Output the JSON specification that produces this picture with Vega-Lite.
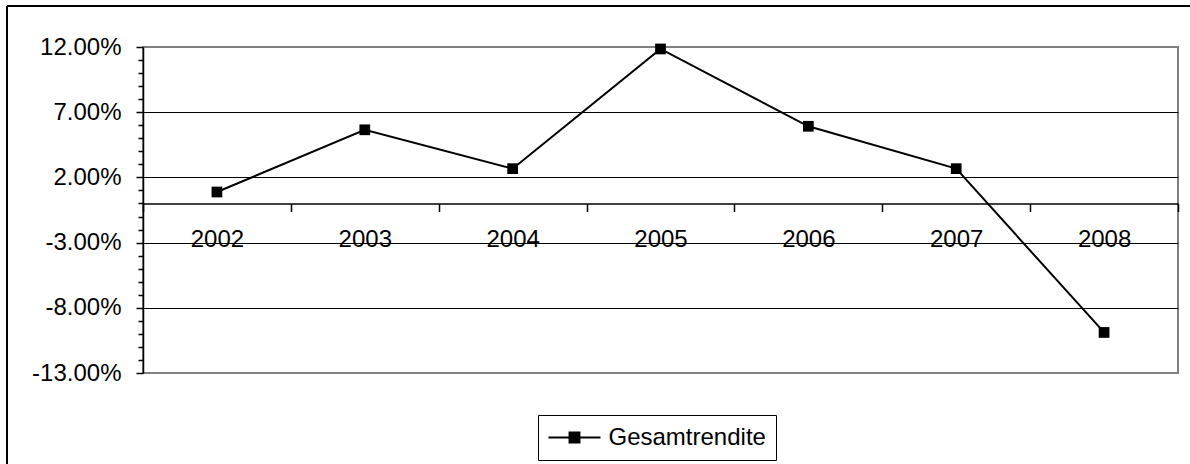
{
  "$schema": "https://vega.github.io/schema/vega-lite/v6.json",
  "width": 1035,
  "height": 326,
  "autosize": "none",
  "padding": {"left": 143, "top": 47, "right": 12, "bottom": 91},
  "background": "white",
  "config": {
    "font": "Liberation Sans",
    "view": {"stroke": "#808080", "strokeWidth": 2},
    "axis": {
      "labelFont": "Liberation Sans",
      "labelFontSize": 24,
      "labelColor": "black",
      "labelOverlap": false,
      "labelFlush": false,
      "labelBound": false,
      "domainColor": "black",
      "tickColor": "black",
      "gridColor": "black",
      "gridWidth": 1
    }
  },
  "data": {
    "values": [
      {"year": "2002", "rendite": 0.0088, "series": "Gesamtrendite"},
      {"year": "2003", "rendite": 0.0565, "series": "Gesamtrendite"},
      {"year": "2004", "rendite": 0.0267, "series": "Gesamtrendite"},
      {"year": "2005", "rendite": 0.1185, "series": "Gesamtrendite"},
      {"year": "2006", "rendite": 0.0592, "series": "Gesamtrendite"},
      {"year": "2007", "rendite": 0.0267, "series": "Gesamtrendite"},
      {"year": "2008", "rendite": -0.0989, "series": "Gesamtrendite"}
    ]
  },
  "resolve": {"scale": {"x": "independent"}, "axis": {"x": "independent"}},
  "layer": [
    {
      "mark": {"type": "line", "color": "black", "strokeWidth": 2},
      "encoding": {
        "x": {
          "field": "year",
          "type": "ordinal",
          "scale": {"type": "band", "paddingInner": 0, "paddingOuter": 0},
          "axis": {
            "title": null,
            "orient": "bottom",
            "offset": -169.5,
            "tickBand": "extent",
            "tickSize": 8,
            "tickWidth": 1.5,
            "labelAngle": 0,
            "labelPadding": 16,
            "grid": false,
            "domainWidth": 1.5
          }
        },
        "y": {
          "field": "rendite",
          "type": "quantitative",
          "scale": {"domain": [-0.13, 0.12], "nice": false, "zero": false},
          "axis": {
            "title": null,
            "values": [-0.13, -0.12, -0.11, -0.1, -0.09, -0.08, -0.07, -0.06, -0.05, -0.04, -0.03, -0.02, -0.01, 0, 0.01, 0.02, 0.03, 0.04, 0.05, 0.06, 0.07, 0.08, 0.09, 0.1, 0.11, 0.12],
            "tickCount": 100,
            "format": ".2%",
            "labelExpr": "(round(datum.value * 100) + 13) % 5 == 0 ? replace(datum.label, '\u2212', '-') : ''",
            "labelOverlap": false,
            "labelPadding": 15,
            "tickSize": {"condition": {"test": "(round(datum.value * 100) + 13) % 5 == 0", "value": 7}, "value": 5},
            "tickWidth": 1.5,
            "grid": true,
            "gridOpacity": {"condition": {"test": "(round(datum.value * 100) + 13) % 5 == 0 && datum.value < 0.115 && datum.value > -0.125", "value": 1}, "value": 0},
            "domainWidth": 1.5
          }
        },
        "color": {
          "field": "series",
          "type": "nominal",
          "scale": {"range": ["black"]},
          "legend": {
            "title": null,
            "orient": "none",
            "legendX": 395,
            "legendY": 368,
            "symbolType": "M-1,0H1M-0.19,-0.19H0.19V0.19H-0.19Z",
            "symbolSize": 2704,
            "symbolStrokeWidth": 2,
            "symbolFillColor": "black",
            "symbolStrokeColor": "black",
            "clipHeight": 26,
            "labelFont": "Liberation Sans",
            "labelFontSize": 24,
            "labelColor": "black",
            "labelOffset": 7,
            "labelLimit": 400,
            "padding": 9.5,
            "strokeColor": "black",
            "fillColor": "white"
          }
        }
      }
    },
    {
      "mark": {"type": "point", "shape": "square", "filled": true, "color": "black", "size": 115, "opacity": 1},
      "encoding": {
        "x": {"field": "year", "type": "ordinal", "scale": {"type": "band", "paddingInner": 0, "paddingOuter": 0}, "axis": null},
        "y": {"field": "rendite", "type": "quantitative", "scale": {"domain": [-0.13, 0.12], "nice": false, "zero": false}}
      }
    },
    {
      "mark": {"type": "rule", "color": "black", "strokeWidth": 2},
      "encoding": {
        "x": {"datum": -0.1314, "type": "quantitative", "scale": {"domain": [0, 1], "nice": false, "zero": false}, "axis": null},
        "x2": {"datum": 1.2},
        "y": {"datum": 0.15144, "type": "quantitative", "scale": {"domain": [-0.13, 0.12], "nice": false, "zero": false}}
      }
    },
    {
      "mark": {"type": "rule", "color": "black", "strokeWidth": 2},
      "encoding": {
        "x": {"datum": -0.1314, "type": "quantitative", "scale": {"domain": [0, 1], "nice": false, "zero": false}, "axis": null},
        "y": {"datum": 0.15144, "type": "quantitative", "scale": {"domain": [-0.13, 0.12], "nice": false, "zero": false}},
        "y2": {"datum": -0.3}
      }
    }
  ]
}
